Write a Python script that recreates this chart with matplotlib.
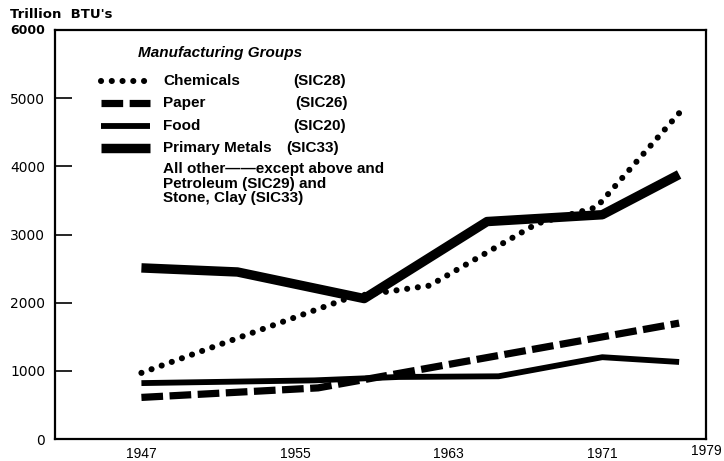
import matplotlib
matplotlib.use('Agg')
import matplotlib.pyplot as plt
from matplotlib.lines import Line2D

plt.rcParams['font.family'] = ['Liberation Sans', 'DejaVu Sans']

# energy use by manufacturing group, trillion BTU's
chem_years = [1947, 1958, 1962, 1967.6, 1970.7, 1975]
chem_vals = [970, 2090, 2250, 3160, 3400, 4780]

paper_years = [1947, 1956.2, 1975]
paper_vals = [610, 750, 1700]

food_years = [1947, 1956, 1960.4, 1965.6, 1971, 1975]
food_vals = [820, 860, 910, 920, 1200, 1130]

metals_years = [1947, 1952, 1958.6, 1965, 1971, 1975]
metals_vals = [2510, 2450, 2060, 3190, 3290, 3880]

x_ticks = [1947, 1955, 1963, 1971, 1976.4]
x_labels = ['1947', '1955', '1963', '1971', '1979']
y_ticks = [0, 1000, 2000, 3000, 4000, 5000]

styles = {
    'chem': dict(color='black', lw=4.4, linestyle=(0, (0.01, 1.75)), dash_capstyle='round'),
    'paper': dict(color='black', lw=5.2, linestyle=(0, (3.0, 0.9)), dash_capstyle='butt'),
    'food': dict(color='black', lw=4.2, solid_capstyle='butt'),
    'metals': dict(color='black', lw=6.8, solid_capstyle='butt'),
}

L, R, T, B = 55, 706, 30, 439
fig = plt.figure(figsize=(7.24, 4.61), dpi=100)
ax = fig.add_axes([L / 724, 1 - B / 461, (R - L) / 724, (B - T) / 461])

ax.plot(chem_years, chem_vals, **styles['chem'])
ax.plot(paper_years, paper_vals, **styles['paper'])
ax.plot(food_years, food_vals, **styles['food'])
ax.plot(metals_years, metals_vals, **styles['metals'])

ax.set_xlim(1942.5, 1976.4)
ax.set_ylim(0, 6000)
ax.set_xticks(x_ticks)
ax.set_xticklabels(x_labels, fontsize=10)
ax.get_xticklabels()[-1].set_y(0.007)
ax.set_yticks(y_ticks)
ax.set_yticklabels([str(v) for v in y_ticks], fontsize=10, family='DejaVu Sans')
ax.tick_params(axis='x', length=0, pad=6)
ax.tick_params(axis='y', direction='in', length=12, width=1.2, pad=7)
for s in ax.spines.values():
    s.set_linewidth(1.6)

# top axis label
ax.text(-0.015, 1.0, '6000', transform=ax.transAxes, ha='right', va='center',
        fontsize=9, fontweight='bold', family='DejaVu Sans')
fig.text(10 / 724, 1 - 14 / 461, "Trillion  BTU's", ha='left', va='center',
         fontsize=9.5, fontweight='bold', family='DejaVu Sans')

# legend block
def fx(px):
    return (px - L) / (R - L)

def fy(py):
    return (B - py) / (B - T)

ax.text(fx(138), fy(53), 'Manufacturing Groups', transform=ax.transAxes,
        fontsize=11, style='italic', fontweight='bold', va='center', ha='left')

rows = [
    ('chem', 'Chemicals', '(SIC28)', 81, 293),
    ('paper', 'Paper', '(SIC26)', 103, 295),
    ('food', 'Food', '(SIC20)', 126, 293),
    ('metals', 'Primary Metals', '(SIC33)', 148, 286),
]
for key, name, code, py, cx in rows:
    ln = Line2D([fx(101), fx(150)], [fy(py), fy(py)], transform=ax.transAxes, **styles[key])
    ax.add_line(ln)
    ax.text(fx(163), fy(py), name, transform=ax.transAxes, fontsize=11,
            fontweight='bold', va='center', ha='left')
    ax.text(fx(cx), fy(py), code, transform=ax.transAxes, fontsize=11,
            fontweight='bold', va='center', ha='left')

other_lines = ['All other\u2014\u2014except above and', 'Petroleum (SIC29) and', 'Stone, Clay (SIC33)']
for txt, py in zip(other_lines, [169, 184, 198]):
    ax.text(fx(163), fy(py), txt, transform=ax.transAxes, fontsize=11,
            fontweight='bold', va='center', ha='left')

fig.savefig('out.png', dpi=100)
